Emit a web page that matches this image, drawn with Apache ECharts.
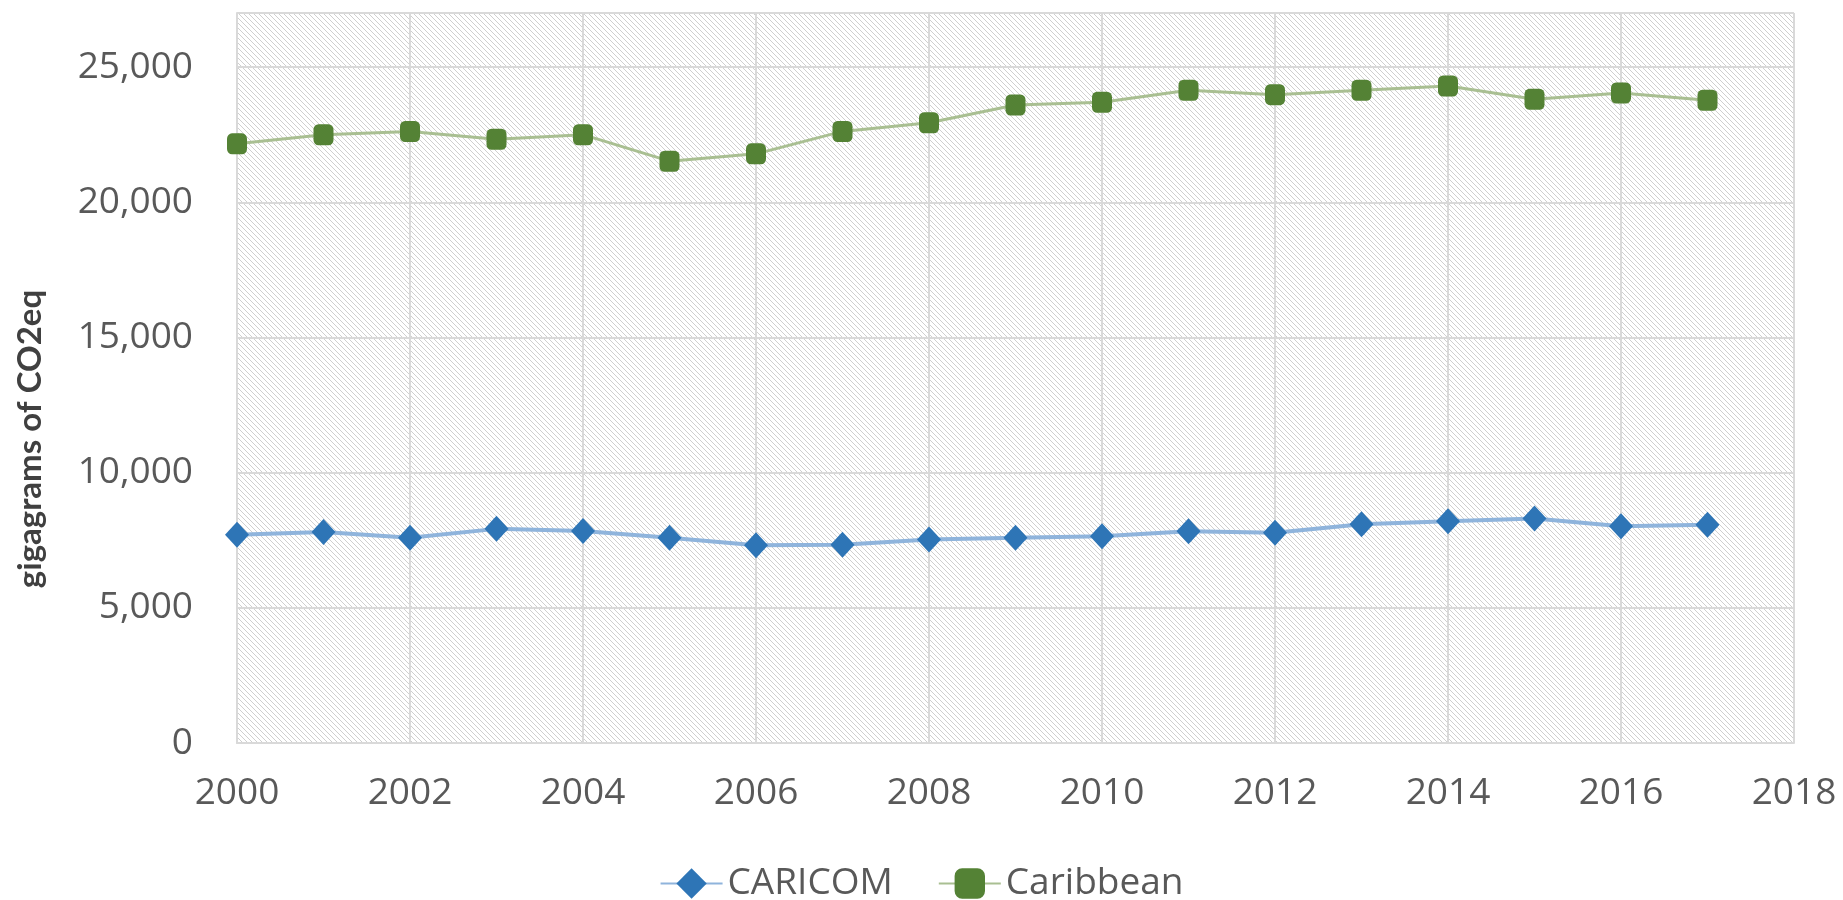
<!DOCTYPE html>
<html><head><meta charset="utf-8">
<script src="https://cdn.jsdelivr.net/npm/echarts@6/dist/echarts.min.js"></script>
<style>html,body{margin:0;padding:0;background:#fff}#c{width:1843px;height:900px}</style>
</head><body><div id="c"></div>
<script>
const years = [2000,2001,2002,2003,2004,2005,2006,2007,2008,2009,2010,2011,2012,2013,2014,2015,2016,2017];
const caricom = [7700,7800,7590,7920,7840,7590,7310,7330,7530,7590,7650,7830,7780,8090,8200,8300,8020,8070];
const caribbean = [22160,22500,22620,22330,22500,21520,21790,22620,22940,23600,23700,24140,23980,24140,24300,23810,24040,23770];
const yTickMax = 27000;
const yInterval = 5000;
const xMin = 2000, xMax = 2018, xInterval = 2;

const tile = document.createElement('canvas');
tile.width = 5; tile.height = 5;
const tctx = tile.getContext('2d');
tctx.fillStyle = '#ffffff'; tctx.fillRect(0,0,5,5);
tctx.fillStyle = '#cfcfcf';
for (let i = 0; i < 5; i++) tctx.fillRect(i, i, 1, 1);

const gridColor = '#d9d9d9';
const labelFont = 'Open Sans';
const chart = echarts.init(document.getElementById('c'));
chart.setOption({
  animation: false,
  grid: {left: 237, right: 49, top: 13, bottom: 157, show: true, borderWidth: 0,
         backgroundColor: {image: tile, repeat: 'repeat'}},
  legend: {
    top: 860, left: 'center', itemWidth: 62, itemHeight: 38, itemGap: 45,
    textStyle: {fontSize: 37, color: '#595959', fontFamily: labelFont},
    data: ['CARICOM', 'Caribbean']
  },
  xAxis: {
    type: 'value', min: xMin, max: xMax, interval: xInterval,
    axisLabel: {fontSize: 37, color: '#595959', fontFamily: labelFont, margin: 32, formatter: v => String(v)},
    axisLine: {show: true, onZero: false, lineStyle: {color: gridColor, width: 2}},
    axisTick: {show: false},
    splitLine: {show: true, lineStyle: {color: gridColor, width: 2}}
  },
  yAxis: {
    type: 'value', min: 0, max: yTickMax, interval: yInterval,
    name: 'gigagrams of CO2eq', nameLocation: 'middle', nameGap: 190, nameRotate: 90,
    nameTextStyle: {fontSize: 33, fontWeight: 'bold', color: '#404040', fontFamily: 'Lato, "Liberation Sans", sans-serif', padding: [0, 122, 0, 0]},
    axisLabel: {fontSize: 37, color: '#595959', fontFamily: labelFont, margin: 44,
                formatter: v => v === yTickMax ? '' : v.toLocaleString('en-US')},
    axisLine: {show: true, lineStyle: {color: gridColor, width: 2}},
    axisTick: {show: false},
    splitLine: {show: true, lineStyle: {color: gridColor, width: 2}}
  },
  series: [
    {name: 'CARICOM', type: 'line', data: years.map((y, i) => [y, caricom[i]]),
     symbol: 'diamond', symbolSize: [24, 26],
     itemStyle: {color: '#2e75b6'},
     lineStyle: {color: '#8fb4dc', width: 4}},
    {name: 'Caribbean', type: 'line', data: years.map((y, i) => [y, caribbean[i]]),
     symbol: 'roundRect', symbolSize: [20, 21],
     itemStyle: {color: '#548235'},
     lineStyle: {color: '#a9bf92', width: 3}}
  ]
});
</script></body></html>
